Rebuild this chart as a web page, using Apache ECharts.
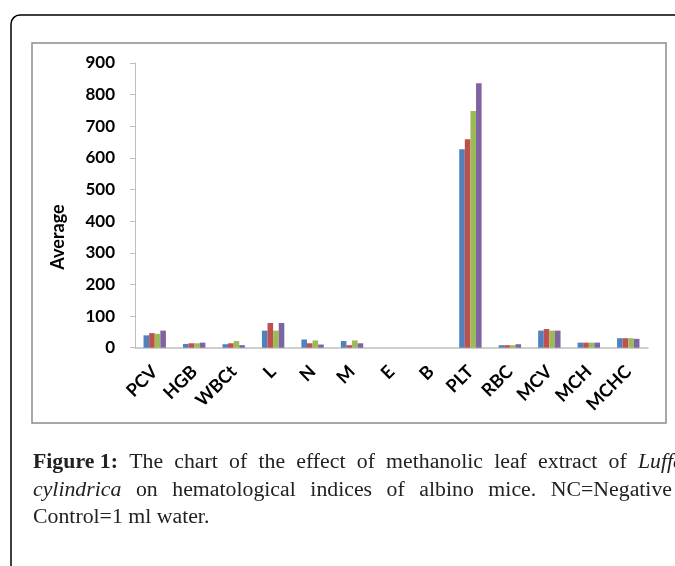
<!DOCTYPE html>
<html><head><meta charset="utf-8">
<script src="https://cdn.jsdelivr.net/npm/echarts@6/dist/echarts.min.js"></script>
<style>html,body{margin:0;padding:0;background:#fff}#c{width:675px;height:566px}</style>
</head><body><div id="c"></div>
<script>
// ---- data ----
const categories = ['PCV','HGB','WBCt','L','N','M','E','B','PLT','RBC','MCV','MCH','MCHC'];
const series1 = [39, 12, 11, 54, 26, 21, 0, 0, 627, 8, 54, 16, 30];
const series2 = [46, 14, 14, 78, 14, 8, 0, 0, 659, 8, 59, 16, 30];
const series3 = [44, 14, 21, 54, 23, 23, 0, 0, 748, 8, 54, 16, 30];
const series4 = [54, 16, 8, 78, 10, 14, 0, 0, 836, 11, 54, 16, 28];
const seriesNames = ['Series 1','Series 2','Series 3','Series 4'];
const yAxisTitle = 'Average';
const captionLines = [
  [{t:'Figure 1:', s:'bold'}, {t:'The'},{t:'chart'},{t:'of'},{t:'the'},{t:'effect'},{t:'of'},{t:'methanolic'},{t:'leaf'},{t:'extract'},{t:'of'},{t:'Luffa', s:'italic'}],
  [{t:'cylindrica', s:'italic'},{t:'on'},{t:'hematological'},{t:'indices'},{t:'of'},{t:'albino'},{t:'mice.'},{t:'NC=Negative'}],
  [{t:'Control=1'},{t:'ml'},{t:'water.'}]
];

const colors = ['#4F81BD','#C0504D','#9BBB59','#8064A2'];
const sans = 'Lato';
const serif = 'Liberation Serif';
const capSize = 20;
const capScaleX = 1.09;

// caption layout (justified lines)
const cv = document.createElement('canvas').getContext('2d');
function fontStr(s){ return (s==='bold'?'bold ':s==='italic'?'italic ':'') + capSize + 'px "' + serif + '"'; }
const capStartX = 33, capEnds = [684, 672, null], capYs = [463, 491, 518];
const graphics = [
  {type:'rect', shape:{x:11, y:15, width:720, height:620, r:9}, style:{fill:'none', stroke:'#000', lineWidth:1.5}, silent:true},
  {type:'rect', shape:{x:32, y:43, width:634, height:380}, style:{fill:'none', stroke:'#8c8c8c', lineWidth:1.5}, silent:true},
  {type:'text', x:58, y:237, rotation:Math.PI/2, silent:true,
   style:{text:yAxisTitle, font:'bold 18px "' + sans + '"', fill:'#000', align:'center', verticalAlign:'middle'}}
];
captionLines.forEach((words, li) => {
  const widths = words.map(w => { cv.font = fontStr(w.s); return cv.measureText(w.t).width * capScaleX; });
  const total = widths.reduce((a,b)=>a+b,0);
  cv.font = fontStr(); const sp = cv.measureText(' ').width * capScaleX;
  let gap = sp;
  if (capEnds[li] !== null) gap = Math.max(sp, (capEnds[li] - capStartX - total) / (words.length - 1));
  let x = capStartX;
  words.forEach((w, i) => {
    graphics.push({type:'text', x:x, y:capYs[li], scaleX:capScaleX, silent:true,
      style:{text:w.t, font:fontStr(w.s), fill:'#222', verticalAlign:'middle', align:'left'}});
    x += widths[i] + gap;
  });
});

const chart = echarts.init(document.getElementById('c'), null, {renderer:'canvas'});
const mk = (name, data, i) => ({
  name, type:'bar', data, barWidth:5.6, barGap:'0%',
  itemStyle:{color:colors[i]}
});
chart.setOption({
  animation:false,
  backgroundColor:'#fff',
  grid:{left:135, right:27, top:63, bottom:218.3, containLabel:false},
  xAxis:{
    type:'category', data:categories,
    axisLine:{show:true, lineStyle:{color:'#BFBFBF', width:1.5}},
    axisTick:{show:false},
    axisLabel:{rotate:45, margin:21, fontFamily:sans, fontWeight:'bold', fontSize:18, color:'#000', interval:0}
  },
  yAxis:{
    type:'value', min:0, max:900, interval:100,
    axisLine:{show:true, lineStyle:{color:'#BFBFBF', width:1}},
    axisTick:{show:true, inside:false, length:5, lineStyle:{color:'#BFBFBF'}},
    splitLine:{show:false},
    axisLabel:{margin:20, fontFamily:sans, fontWeight:'bold', fontSize:17, color:'#000'}
  },
  series:[mk(seriesNames[0],series1,0), mk(seriesNames[1],series2,1), mk(seriesNames[2],series3,2), mk(seriesNames[3],series4,3)],
  graphic:graphics
});
</script></body></html>
